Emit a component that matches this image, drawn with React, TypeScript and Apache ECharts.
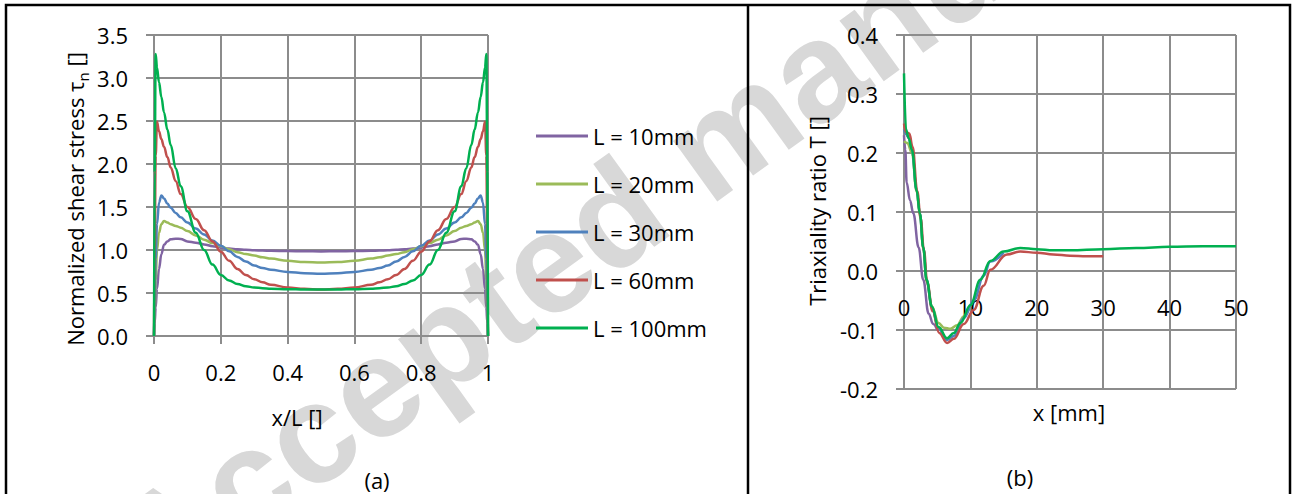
import { useEffect, useRef } from "react";
import * as echarts from "echarts";

const FONT = "'Open Sans', sans-serif";
const GRID_COLOR = "#8c8c8c";

const seriesNames = ["L = 10mm", "L = 20mm", "L = 30mm", "L = 60mm", "L = 100mm"];
const seriesColors = ["#8064A2", "#9BBB59", "#4F81BD", "#C0504D", "#00B050"];

// (a) normalized shear stress vs x/L
const xRatio = [
  0, 0.002, 0.005, 0.009, 0.015, 0.022, 0.03, 0.04, 0.05, 0.065, 0.08, 0.1, 0.125, 0.15, 0.175, 0.2, 0.225, 0.25,
  0.275, 0.3, 0.325, 0.35, 0.4, 0.45, 0.5, 0.55, 0.6, 0.65, 0.675, 0.7, 0.725, 0.75, 0.775, 0.8, 0.825, 0.85, 0.875,
  0.9, 0.92, 0.935, 0.95, 0.96, 0.97, 0.978, 0.985, 0.991, 0.995, 0.998, 1,
];
const tauL10 = [
  0, 0.15, 0.33, 0.55, 0.78, 0.95, 1.06, 1.1, 1.125, 1.131, 1.128, 1.1, 1.085, 1.065, 1.045, 1.027, 1.017, 1.008,
  1.002, 0.997, 0.993, 0.99, 0.987, 0.985, 0.984, 0.985, 0.987, 0.99, 0.993, 0.997, 1.002, 1.008, 1.017, 1.027, 1.045,
  1.065, 1.085, 1.1, 1.128, 1.131, 1.125, 1.1, 1.06, 0.95, 0.78, 0.55, 0.33, 0.15, 0,
];
const tauL20 = [
  0, 0.3, 0.65, 1.0, 1.2, 1.3, 1.337, 1.32, 1.3, 1.28, 1.26, 1.22, 1.17, 1.12, 1.08, 1.045, 1.008, 0.975, 0.953, 0.935,
  0.915, 0.9, 0.875, 0.86, 0.855, 0.86, 0.875, 0.9, 0.915, 0.935, 0.953, 0.975, 1.008, 1.045, 1.08, 1.12, 1.17, 1.22,
  1.26, 1.28, 1.3, 1.32, 1.337, 1.3, 1.2, 1.0, 0.65, 0.3, 0,
];
const tauL30 = [
  0, 0.4, 0.9, 1.3, 1.55, 1.635, 1.6, 1.54, 1.49, 1.43, 1.38, 1.32, 1.25, 1.18, 1.11, 1.05, 0.985, 0.92, 0.865, 0.82,
  0.79, 0.77, 0.745, 0.73, 0.725, 0.73, 0.745, 0.77, 0.79, 0.82, 0.865, 0.92, 0.985, 1.05, 1.11, 1.18, 1.25, 1.32, 1.38,
  1.43, 1.49, 1.54, 1.6, 1.635, 1.55, 1.3, 0.9, 0.4, 0,
];
const tauL60 = [
  0, 1.0, 2.1, 2.49, 2.38, 2.29, 2.2, 2.08, 1.96, 1.8, 1.65, 1.5, 1.36, 1.23, 1.1, 0.98, 0.875, 0.78, 0.71, 0.66, 0.625,
  0.595, 0.565, 0.548, 0.54, 0.548, 0.565, 0.595, 0.625, 0.66, 0.71, 0.78, 0.875, 0.98, 1.1, 1.23, 1.36, 1.5, 1.65, 1.8,
  1.96, 2.08, 2.2, 2.29, 2.38, 2.49, 2.1, 1.0, 0,
];
const tauL100 = [
  0, 1.9, 3.28, 3.12, 2.95, 2.78, 2.6, 2.4, 2.22, 1.95, 1.74, 1.45, 1.2, 1.0, 0.83, 0.71, 0.645, 0.605, 0.578, 0.565,
  0.555, 0.55, 0.545, 0.54, 0.54, 0.54, 0.545, 0.55, 0.555, 0.565, 0.578, 0.605, 0.645, 0.71, 0.83, 1.0, 1.2, 1.45,
  1.74, 1.95, 2.22, 2.4, 2.6, 2.78, 2.95, 3.12, 3.28, 1.9, 0,
];

// (b) triaxiality ratio vs x [mm]
const xT10 = [0, 0.2, 0.4, 0.9, 1.4, 2.2, 2.9, 3.7, 4.4, 5];
const triL10 = [0.23, 0.205, 0.15, 0.12, 0.098, 0.04, -0.015, -0.072, -0.09, -0.1];
const xT20 = [0, 0.3, 0.5, 1.2, 1.9, 2.4, 2.9, 3.4, 4.2, 5.2, 6, 7, 8, 9, 10];
const triL20 = [0.22, 0.218, 0.217, 0.2, 0.135, 0.095, 0.038, -0.017, -0.06, -0.088, -0.096, -0.098, -0.092, -0.077, -0.058];
const xT30 = [0, 0.3, 0.7, 1.2, 1.9, 2.4, 2.9, 3.4, 4.2, 5.2, 6.5, 7.5, 9, 10.5, 12, 13, 15];
const triL30 = [0.24, 0.232, 0.226, 0.205, 0.137, 0.097, 0.04, -0.015, -0.062, -0.098, -0.117, -0.11, -0.08, -0.05, -0.008, 0.016, 0.031];
const xT60 = [0, 0.3, 0.8, 1.3, 2, 2.5, 3, 3.5, 4.3, 5.3, 6.5, 7.5, 9, 10.5, 12, 13, 15.5, 17.5, 20, 22.5, 25, 27.5, 30];
const triL60 = [
  0.25, 0.235, 0.233, 0.21, 0.135, 0.09, 0.035, -0.02, -0.068, -0.105, -0.122, -0.115, -0.09, -0.066, -0.025, 0.002,
  0.028, 0.033, 0.031, 0.028, 0.026, 0.025, 0.025,
];
const xT100 = [0, 0.3, 0.7, 1.2, 1.9, 2.4, 2.9, 3.4, 4.2, 5.2, 6.5, 7.5, 8.5, 10, 11.5, 13, 15, 17.5, 20, 22.5, 25, 30, 35, 40, 45, 50];
const triL100 = [
  0.335, 0.24, 0.225, 0.205, 0.137, 0.097, 0.04, -0.015, -0.06, -0.095, -0.114, -0.105, -0.088, -0.058, -0.015, 0.017,
  0.033, 0.039, 0.037, 0.035, 0.035, 0.037, 0.039, 0.041, 0.042, 0.042,
];

const leftX = [xRatio, xRatio, xRatio, xRatio, xRatio];
const leftY = [tauL10, tauL20, tauL30, tauL60, tauL100];
const rightX = [xT10, xT20, xT30, xT60, xT100];
const rightY = [triL10, triL20, triL30, triL60, triL100];

const leftXTicks = { min: 0, max: 1, interval: 0.2 };
const leftYTicks = { min: 0, max: 3.5, interval: 0.5 };
const rightXTicks = { min: 0, max: 50, interval: 10 };
const rightYTicks = { min: -0.2, max: 0.4, interval: 0.1 };

function axisStyle() {
  return {
    axisLine: { show: true, onZero: false, lineStyle: { color: GRID_COLOR, width: 2 } },
    axisTick: { show: true, length: 8, lineStyle: { color: GRID_COLOR, width: 2 } },
    splitLine: { show: true, lineStyle: { color: GRID_COLOR, width: 2 } },
    axisLabel: { color: "#000", fontSize: 22, fontFamily: FONT, margin: 25 },
  };
}

function makeSeries(xs: number[][], ys: number[][], axisIndex: number) {
  return ys.map((vals, i) => ({
    name: seriesNames[i],
    type: "line",
    xAxisIndex: axisIndex,
    yAxisIndex: axisIndex,
    showSymbol: false,
    symbol: "none",
    smooth: 0.4,
    smoothMonotone: "x",
    color: seriesColors[i],
    lineStyle: { color: seriesColors[i], width: 2.5 },
    data: vals.map((v, k) => [xs[i][k], v]),
    z: 3,
  }));
}

function label(text: string, x: number, y: number, rotation = 0) {
  return {
    type: "text",
    x,
    y,
    rotation,
    z: 50,
    style: { text, fontSize: 22, fontFamily: FONT, fill: "#000", align: "center", verticalAlign: "middle" },
  };
}

export default function App() {
  const ref = useRef<HTMLDivElement>(null);
  useEffect(() => {
    const chart = echarts.init(ref.current!, null, { renderer: "svg" });
    const yFmt = (v: number) => v.toFixed(1);
    chart.setOption({
      animation: false,
      backgroundColor: "#fff",
      textStyle: { fontFamily: FONT },
      grid: [
        { left: 154, top: 35, width: 334, height: 301, outerBoundsMode: "none" },
        { left: 904, top: 35, width: 332, height: 354, outerBoundsMode: "none" },
      ],
      xAxis: [
        { type: "value", gridIndex: 0, ...leftXTicks, ...axisStyle() },
        { type: "value", gridIndex: 1, ...rightXTicks, ...axisStyle(), offset: -118 },
      ],
      yAxis: [
        {
          type: "value",
          gridIndex: 0,
          ...leftYTicks,
          ...axisStyle(),
          axisLabel: { ...axisStyle().axisLabel, margin: 26, formatter: yFmt },
        },
        {
          type: "value",
          gridIndex: 1,
          ...rightYTicks,
          ...axisStyle(),
          axisLabel: { ...axisStyle().axisLabel, margin: 26, formatter: yFmt },
        },
      ],
      legend: {
        orient: "vertical",
        left: 536,
        top: 124,
        padding: 0,
        icon: "rect",
        itemWidth: 52,
        itemHeight: 3,
        itemGap: 24,
        data: seriesNames,
        textStyle: { fontSize: 22, fontFamily: FONT, color: "#000", lineHeight: 24 },
      },
      series: [...makeSeries(leftX, leftY, 0), ...makeSeries(rightX, rightY, 1)],
      graphic: [
        {
          type: "text",
          x: 130,
          y: 564,
          rotation: 0.625,
          z: -10,
          silent: true,
          style: {
            text: "Accepted manuscript",
            fontSize: 142,
            fontWeight: "bold",
            fontFamily: "'Liberation Sans', sans-serif",
            fill: "#d8d8d8",
            align: "left",
            verticalAlign: "middle",
          },
        },
        {
          type: "text",
          x: 75,
          y: 199,
          rotation: Math.PI / 2,
          z: 50,
          style: {
            text: "{a|Normalized shear stress τ}{b|n}{a| []}",
            align: "center",
            verticalAlign: "middle",
            rich: {
              a: { fontSize: 22, fontFamily: FONT, fill: "#000", lineHeight: 30 },
              b: { fontSize: 15, fontFamily: FONT, fill: "#000", lineHeight: 14, verticalAlign: "bottom" },
            },
          },
        },
        label("x/L []", 297, 417),
        label("(a)", 377, 480),
        label("Triaxiality ratio T []", 817, 211, Math.PI / 2),
        label("x [mm]", 1069, 412),
        label("(b)", 1020, 477),
        {
          type: "rect",
          z: 100,
          shape: { x: 6, y: 5, width: 1284, height: 520 },
          style: { fill: "none", stroke: "#000", lineWidth: 2.5 },
        },
        {
          type: "line",
          z: 100,
          shape: { x1: 748, y1: 5, x2: 748, y2: 494 },
          style: { stroke: "#000", lineWidth: 2.5 },
        },
      ],
    });
    return () => chart.dispose();
  }, []);
  return (
    <div
      ref={ref}
      style={{ position: "fixed", left: 0, top: 0, width: 1292, height: 494, background: "#fff" }}
    />
  );
}
